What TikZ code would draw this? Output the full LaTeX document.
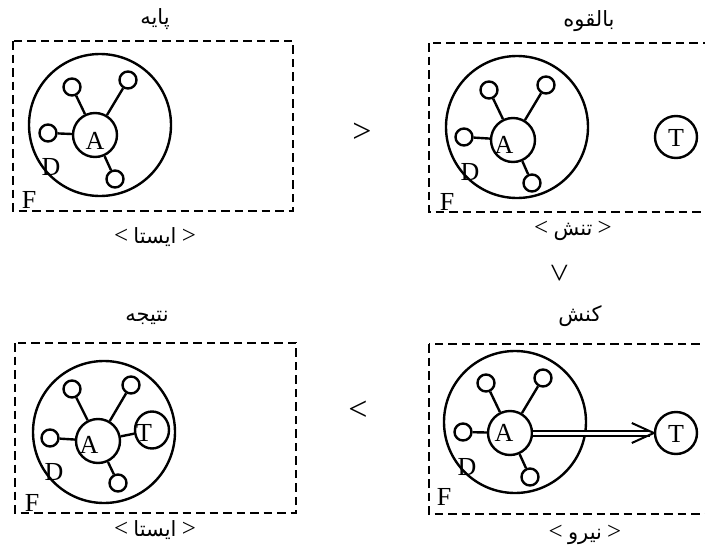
\documentclass[tikz,border=0pt]{standalone}
\usepackage{fontspec}
\setmainfont{Liberation Serif}
\newfontfamily\fa[Script=Arabic]{DejaVu Sans}
\TeXXeTstate=1
\usetikzlibrary{calc,shapes.geometric}
\tikzset{
  frame/.style={draw, line width=2.8pt, dash pattern=on 8.5pt off 5pt},
  bigc/.style={circle, draw, line width=2.4pt, minimum size=142pt, inner sep=0pt},
  acirc/.style={circle, draw, line width=2.4pt, minimum size=44pt, inner sep=0pt, fill=white},
  tcirc/.style={circle, draw, line width=2.4pt, minimum size=42pt, inner sep=0pt},
  sc/.style={circle, draw, line width=2.4pt, minimum size=17pt, inner sep=0pt},
  spoke/.style={line width=2.4pt},
  lt/.style={font=\fontsize{26}{28}\selectfont, inner sep=0pt},
  fat/.style={font=\fontsize{21}{24}\selectfont, inner sep=0pt},
  rel/.style={font=\fontsize{34}{36}\selectfont, inner sep=0pt},
}
\newcommand\ltsym{{\fontsize{25}{26}\selectfont <}}
\newcommand\gtsym{{\fontsize{25}{26}\selectfont >}}
\begin{document}
\begin{tikzpicture}[x=1pt,y=-1pt]
\useasboundingbox (0,0) rectangle (705,549);
\clip (0,0) rectangle (705,549);

% ---------- Panel 1 (top-left) ----------
\draw[frame] (13,41) rectangle (293,211);
\node[fat] (t1) at (155,19) {\fa\beginR پایه\endR};
\node[fat] (b1) at (155,237) {\ltsym\ {\fa\beginR ایستا\endR}\ \gtsym};
\node[bigc] (D1) at (100,125) {};
\node[acirc] (A1) at (95,135) {};
\node[lt] (a1) at (95,141) {A};
\node[sc] (s11) at (72,87) {};
\node[sc] (s12) at (128,80) {};
\node[sc] (s13) at (48,133) {};
\node[sc] (s14) at (115,179) {};
\foreach \s in {s11,s12,s13,s14} \draw[spoke] (A1) -- (\s);
\node[lt] (d1) at (51,167) {D};
\node[lt] (f1) at (29,200) {F};

% ---------- Panel 2 (top-right) ----------
\draw[frame] (429,43) rectangle (725,212);
\node[fat] (t2) at (589,21) {\fa\beginR بالقوه\endR};
\node[fat] (b2) at (573,231) {\ltsym\ {\fa\beginR تنش\endR}\ \gtsym};
\node[bigc] (D2) at (517,127) {};
\node[acirc] (A2) at (513,140) {};
\node[lt] (a2) at (504,145) {A};
\node[sc] (s21) at (489,90) {};
\node[sc] (s22) at (546,85) {};
\node[sc] (s23) at (464,137) {};
\node[sc] (s24) at (532,183) {};
\foreach \s in {s21,s22,s23,s24} \draw[spoke] (A2) -- (\s);
\node[tcirc] (T2) at (676,137) {};
\node[lt] (tt2) at (676,138) {T};
\node[lt] (d2) at (470,172) {D};
\node[lt] (f2) at (447,202) {F};

% ---------- Panel 3 (bottom-left) ----------
\draw[frame] (15,343) rectangle (296,513);
\node[fat] (t3) at (147,318) {\fa\beginR نتیجه\endR};
\node[fat] (b3) at (155,530) {\ltsym\ {\fa\beginR ایستا\endR}\ \gtsym};
\node[bigc] (D3) at (104,432) {};
\node[acirc] (A3) at (98,441) {};
\node[lt] (a3) at (89,445) {A};
\node[sc] (s31) at (72,389) {};
\node[sc] (s32) at (131,385) {};
\node[sc] (s33) at (50,438) {};
\node[sc] (s34) at (118,483) {};
\foreach \s in {s31,s32,s33,s34} \draw[spoke] (A3) -- (\s);
\node[ellipse, draw, line width=2.4pt, minimum width=34pt, minimum height=37pt, inner sep=0pt] (T3) at (152,430) {};
\draw[spoke] (A3) -- (T3);
\node[lt] (tt3) at (144,433) {T};
\node[lt] (d3) at (54,472) {D};
\node[lt] (f3) at (32,503) {F};

% ---------- Panel 4 (bottom-right) ----------
\draw[frame] (429,344) rectangle (725,514);
\node[fat] (t4) at (580,316) {\fa\beginR کنش\endR};
\node[fat] (b4) at (585,535) {\ltsym\ {\fa\beginR نیرو\endR}\ \gtsym};
\node[bigc] (D4) at (515,422) {};
\node[acirc] (A4) at (510,433) {};
\node[lt] (a4) at (504,433) {A};
\node[sc] (s41) at (486,383) {};
\node[sc] (s42) at (543,378) {};
\node[sc] (s43) at (463,432) {};
\node[sc] (s44) at (530,477) {};
\foreach \s in {s41,s42,s43,s44} \draw[spoke] (A4) -- (\s);
\node[tcirc] (T4) at (676,433) {};
\node[lt] (tt4) at (676,434) {T};
\node[lt] (d4) at (467,467) {D};
\node[lt] (f4) at (444,497) {F};
\draw[line width=2pt, double distance=3pt, shorten >=4pt] (A4) -- (T4);
\draw[line width=2pt] ($(T4.west)+(-22,-10)$) -- (T4.west) -- ($(T4.west)+(-22,10)$);

% ---------- relations ----------
\node[rel] (r1) at (362,133) {>};
\node[rel, rotate=-90] (r2) at (558,273) {>};
\node[rel] (r3) at (358,411) {<};
\end{tikzpicture}
\end{document}
